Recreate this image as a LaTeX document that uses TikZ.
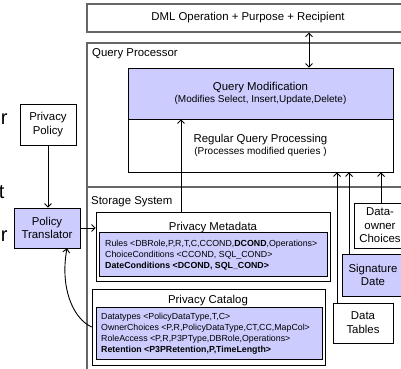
\documentclass[tikz,border=0pt]{standalone}
\usepackage{fontspec}
\setmainfont{Liberation Sans}
\usetikzlibrary{arrows.meta,calc}
\definecolor{lav}{RGB}{204,204,255}

\begin{document}
\begin{tikzpicture}[x=1pt,y=-1pt,
  frame/.style={draw=black!60, line width=1.1pt, inner sep=0pt},
  box/.style={draw=black, line width=0.7pt, inner sep=0pt, align=center,
    font=\fontsize{11.4}{13.8}\selectfont},
  lavbox/.style={box, fill=lav},
  lbl/.style={font=\fontsize{11.4}{13.8}\selectfont, inner sep=0pt},
  rowtxt/.style={font=\fontsize{8.8}{10}\selectfont, inner sep=0pt, anchor=base west},
  frag/.style={font=\fontsize{20}{20}\selectfont, inner sep=0pt, anchor=base east},
  flow/.style={-{Straight Barb[length=3.5pt,width=7pt]}, line width=0.9pt},
  bothflow/.style={{Straight Barb[length=3.5pt,width=7pt]}-{Straight Barb[length=3.5pt,width=7pt]}, line width=0.9pt},
]
\useasboundingbox (0,0) rectangle (401,368);
\clip (0,0) rectangle (401,368);
\fill[white] (0,0) rectangle (401,368);

% letters of a wider caption, cut at the left border
\node[frag] (fragA) at (7.8,124) {r};
\node[frag] (fragB) at (4.6,198) {t};
\node[frag] (fragC) at (7.8,241) {r};

% request box on top
\node[frame, minimum width=322pt, minimum height=28pt, lbl] (dml) at (248,18)
  {DML Operation + Purpose + Recipient};

% query processor and storage system frames
\node[frame, minimum width=333pt, minimum height=144pt] (qp) at (253.5,115) {};
\node[frame, minimum width=333pt, minimum height=233pt] (ss) at (253.5,303.5) {};
\node[lbl, anchor=base west] (qplbl) at (92,56) {Query Processor};
\node[lbl, anchor=base west] (sslbl) at (91,204) {Storage System};

% query modification / regular processing
\node[lavbox, minimum width=265pt, minimum height=51pt] (qmod) at (260.5,93.5)
  {Query Modification\\[-1.5pt]{\fontsize{10}{12}\selectfont(Modifies Select, Insert,Update,Delete)}};
\node[box, minimum width=265pt, minimum height=53pt] (reg) at (260.5,145.5)
  {Regular Query Processing\\[-1.5pt]{\fontsize{10}{12}\selectfont(Processes modified queries )}};

% privacy metadata
\node[box, minimum width=234pt, minimum height=69pt] (pmeta) at (213,246.5) {};
\node[lbl, anchor=base] (pmetalbl) at (213,230.5) {Privacy Metadata};
\node[lavbox, minimum width=228pt, minimum height=44pt] (pmetain) at (213,254) {};
\node[rowtxt] (m1) at (105,246.5) {Rules <DBRole,P,R,T,C,CCOND,\textbf{DCOND},Operations>};
\node[rowtxt] (m2) at (105,257.3) {ChoiceConditions <CCOND, SQL\_COND>};
\node[rowtxt] (m3) at (105,268) {\textbf{DateConditions <DCOND, SQL\_COND>}};

% privacy catalog
\node[box, minimum width=233pt, minimum height=76pt] (pcat) at (208.5,327) {};
\node[lbl, anchor=base] (pcatlbl) at (208,303.5) {Privacy Catalog};
\node[lavbox, minimum width=226pt, minimum height=52pt] (pcatin) at (209,333) {};
\node[rowtxt] (c1) at (101,319.3) {Datatypes <PolicyDataType,T,C>};
\node[rowtxt] (c2) at (101,330.6) {OwnerChoices <P,R,PolicyDataType,CT,CC,MapCol>};
\node[rowtxt] (c3) at (101,341.3) {RoleAccess <P,R,P3PType,DBRole,Operations>};
\node[rowtxt] (c4) at (101,352.3) {\textbf{Retention <P3PRetention,P,TimeLength>}};

% policy side
\node[box, minimum width=56pt, minimum height=41pt] (policy) at (48,124.5) {Privacy\\Policy};
\node[lavbox, minimum width=66pt, minimum height=40pt] (translator) at (47,228) {Policy\\Translator};

% data sources on the right
\node[box, minimum width=52pt, minimum height=45pt] (owner) at (380,225.5) {Data-\\[-0.3pt]owner\\[-0.3pt]Choices};
\node[lavbox, minimum width=62pt, minimum height=42pt] (sig) at (373,275) {Signature\\Date};
\node[box, minimum width=60pt, minimum height=40pt] (tables) at (363,323) {Data\\Tables};

% connectors
\coordinate (xq) at (309,0);
\coordinate (xm) at (181,0);
\coordinate (xt) at (337,0);
\coordinate (xs) at (349,0);
\coordinate (xo) at (381,0);
\draw[bothflow] (xq |- dml.south) -- (xq |- qmod.north);
\draw[flow] (xm |- pmeta.north) -- (xm |- qmod.south);
\draw[flow] (xt |- tables.north) -- (xt |- reg.south);
\draw[flow] (xs |- sig.north) -- (xs |- reg.south);
\draw[flow] (xo |- owner.north) -- (xo |- reg.south);
\draw[flow] (policy.south) -- (policy.south |- translator.north);
\draw[flow] (translator.east) -- (translator.east -| pmeta.west);
\draw[flow] (pcat.west) .. controls (72,318) and (60,286) .. ([xshift=20pt]translator.south);
\end{tikzpicture}
\end{document}
